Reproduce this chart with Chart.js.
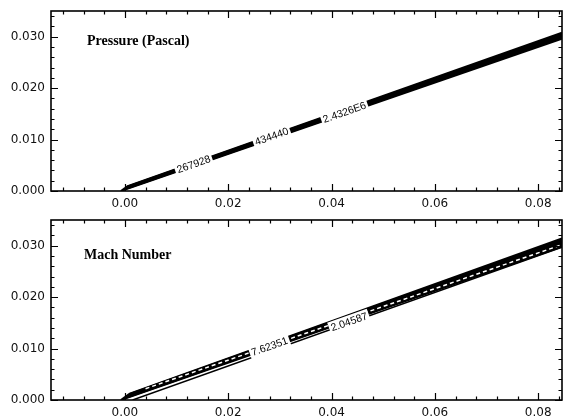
<!DOCTYPE html>
<html>
<head>
<meta charset="utf-8">
<script src="https://cdn.jsdelivr.net/npm/chart.js@4.4.0/dist/chart.umd.min.js"></script>
<style>
html,body{margin:0;padding:0;background:#fff;}
#wrap{width:565px;height:418px;}
.panel{width:565px;height:209px;}
canvas{display:block;}
</style>
</head>
<body>
<div id="wrap">
  <div class="panel"><canvas id="pressure" width="565" height="209"></canvas></div>
  <div class="panel"><canvas id="mach" width="565" height="209"></canvas></div>
</div>
<script>
// axes (metres)
const xRange = [-0.0143, 0.0846];
const yRange = [0, 0.035];
const xTickValues = [0, 0.02, 0.04, 0.06, 0.08];
const xTickLabels = ['0.00', '0.02', '0.04', '0.06', '0.08'];
const yTickValues = [0, 0.01, 0.02, 0.03];
const yTickLabels = ['0.000', '0.010', '0.020', '0.030'];
const xMinorStep = 0.004;
const yMinorStep = 0.002;

// pressure contour lines: start point near the origin, end height at the right edge
const pressureStartX = [-0.0008, -0.0006, -0.0004, -0.0002, 0.0000, 0.0002, 0.0004];
const pressureStartY = [0.0000, 0.00015, 0.0003, 0.00045, 0.0006, 0.00075, 0.0009];
const pressureEndY   = [0.0296, 0.0298, 0.0300, 0.0302, 0.0304, 0.0306, 0.0308];
const pressureLabels = ['267928', '434440', '2.4326E6'];
const pressureLabelX = [0.0133, 0.0284, 0.0425];
const pressureLabelY = [0.0052, 0.0106, 0.0153];

// mach contour lines
const machStartX = [-0.0008, -0.0006, -0.0004, -0.0002, 0.0000, 0.0002, 0.0004, 0.0006, 0.0008];
const machStartY = [0.0000, 0.00015, 0.0003, 0.00045, 0.0006, 0.00075, 0.0009, 0.00105, 0.0012];
const machEndY   = [0.0298, 0.0300, 0.0302, 0.0304, 0.0306, 0.0308, 0.0310, 0.0312, 0.0314];
const machLowStart = [0.0015, 0.0000];
const machLowEndY = 0.0297;
const machDashStart = [0.0040, 0.0022];
const machDashEndY = 0.0302;
const machLabels = ['7.62351', '2.04587'];
const machLabelX = [0.0280, 0.0434];
const machLabelY = [0.0104, 0.0152];

const xEdge = xRange[1];

function line(sx, sy, ey, width, color, dash, order) {
  return {
    data: [{x: sx, y: sy}, {x: xEdge, y: ey}],
    borderColor: color, borderWidth: width, borderDash: dash || [],
    pointRadius: 0, fill: false, tension: 0, order: order
  };
}

function bandSets(sx, sy, ey) {
  return ey.map((v, i) => line(sx[i], sy[i], v, 2, '#000', null, 2));
}

// frame with inward major/minor ticks on all four sides
const framePlugin = {
  id: 'frame',
  afterDraw(chart) {
    const {ctx, chartArea: a, scales: {x, y}} = chart;
    ctx.save();
    ctx.strokeStyle = '#000';
    ctx.lineWidth = 1.6;
    ctx.strokeRect(a.left, a.top, a.right - a.left, a.bottom - a.top);
    ctx.lineWidth = 1.2;
    ctx.beginPath();
    const i0 = Math.ceil(x.min / xMinorStep), i1 = Math.floor(x.max / xMinorStep);
    for (let i = i0; i <= i1; i++) {
      const px = Math.round(x.getPixelForValue(i * xMinorStep)) + 0.5;
      const len = (i % 5 === 0) ? 7 : 3.5;
      ctx.moveTo(px, a.bottom); ctx.lineTo(px, a.bottom - len);
      ctx.moveTo(px, a.top); ctx.lineTo(px, a.top + len);
    }
    const j0 = Math.ceil(y.min / yMinorStep), j1 = Math.floor(y.max / yMinorStep);
    for (let j = j0; j <= j1; j++) {
      const py = Math.round(y.getPixelForValue(j * yMinorStep)) + 0.5;
      const len = (j % 5 === 0) ? 7 : 3.5;
      ctx.moveTo(a.left, py); ctx.lineTo(a.left + len, py);
      ctx.moveTo(a.right, py); ctx.lineTo(a.right - len, py);
    }
    ctx.stroke();
    ctx.restore();
  }
};

// contour value labels sitting in gaps along the band, plus the panel title
const labelPlugin = {
  id: 'contourLabels',
  afterDatasetsDraw(chart, args, opts) {
    const {ctx, chartArea: a, scales: {x, y}} = chart;
    const ref = chart.data.datasets[opts.refIndex].data;
    const ang = Math.atan2(
      y.getPixelForValue(ref[1].y) - y.getPixelForValue(ref[0].y),
      x.getPixelForValue(ref[1].x) - x.getPixelForValue(ref[0].x));
    ctx.save();
    ctx.font = '10.5px "Liberation Sans", Arial, sans-serif';
    ctx.textAlign = 'center';
    ctx.textBaseline = 'middle';
    opts.labels.forEach((t, i) => {
      const px = x.getPixelForValue(opts.xs[i]);
      const py = y.getPixelForValue(opts.ys[i]);
      const w = ctx.measureText(t).width;
      ctx.save();
      ctx.translate(px, py);
      ctx.rotate(ang);
      ctx.fillStyle = '#fff';
      ctx.fillRect(-w / 2 - 2, -6.5, w + 4, 13);
      ctx.fillStyle = '#000';
      ctx.fillText(t, 0, 0.5);
      ctx.restore();
    });
    ctx.font = 'bold 14px "Liberation Serif", "Times New Roman", serif';
    ctx.textAlign = 'left';
    ctx.textBaseline = 'alphabetic';
    ctx.fillStyle = '#000';
    ctx.fillText(opts.title, a.left + opts.titleDx, a.top + opts.titleDy);
    ctx.restore();
  }
};

function makeChart(id, datasets, labelOpts) {
  return new Chart(document.getElementById(id), {
    type: 'line',
    data: {datasets},
    options: {
      responsive: false, animation: false, devicePixelRatio: 1,
      layout: {padding: {top: 11, right: 3, left: 0, bottom: 0}},
      plugins: {legend: {display: false}, tooltip: {enabled: false}, contourLabels: labelOpts},
      scales: {
        x: {
          type: 'linear', min: xRange[0], max: xRange[1],
          grid: {display: false, drawTicks: false}, border: {display: false},
          afterBuildTicks: s => { s.ticks = xTickValues.map(v => ({value: v})); },
          afterFit: s => { s.height = 18; s.paddingLeft = 0; s.paddingRight = 0; },
          ticks: {
            padding: 6, color: '#111', maxRotation: 0, autoSkip: false,
            font: {family: '"DejaVu Sans", sans-serif', size: 12},
            callback: (v) => { const k = xTickValues.indexOf(v); return k < 0 ? '' : xTickLabels[k]; }
          }
        },
        y: {
          type: 'linear', min: yRange[0], max: yRange[1],
          grid: {display: false, drawTicks: false}, border: {display: false},
          afterBuildTicks: s => { s.ticks = yTickValues.map(v => ({value: v})); },
          afterFit: s => { s.width = 51; s.paddingTop = 0; s.paddingBottom = 0; },
          ticks: {
            padding: 6, color: '#111', autoSkip: false,
            font: {family: '"DejaVu Sans", sans-serif', size: 12},
            callback: (v) => { const k = yTickValues.indexOf(v); return k < 0 ? '' : yTickLabels[k]; }
          }
        }
      }
    },
    plugins: [labelPlugin, framePlugin]
  });
}

const pressureSets = bandSets(pressureStartX, pressureStartY, pressureEndY);
makeChart('pressure', pressureSets, {
  labels: pressureLabels, xs: pressureLabelX, ys: pressureLabelY,
  refIndex: 3, title: 'Pressure (Pascal)', titleDx: 36, titleDy: 34
});

const machSets = bandSets(machStartX, machStartY, machEndY);
machSets.push(line(machLowStart[0], machLowStart[1], machLowEndY, 1.5, '#000', null, 3));
machSets.push(line(machDashStart[0], machDashStart[1], machDashEndY, 1.5, '#fff', [4, 3], 0));
makeChart('mach', machSets, {
  labels: machLabels, xs: machLabelX, ys: machLabelY,
  refIndex: 4, title: 'Mach Number', titleDx: 33, titleDy: 39
});
</script>
</body>
</html>
